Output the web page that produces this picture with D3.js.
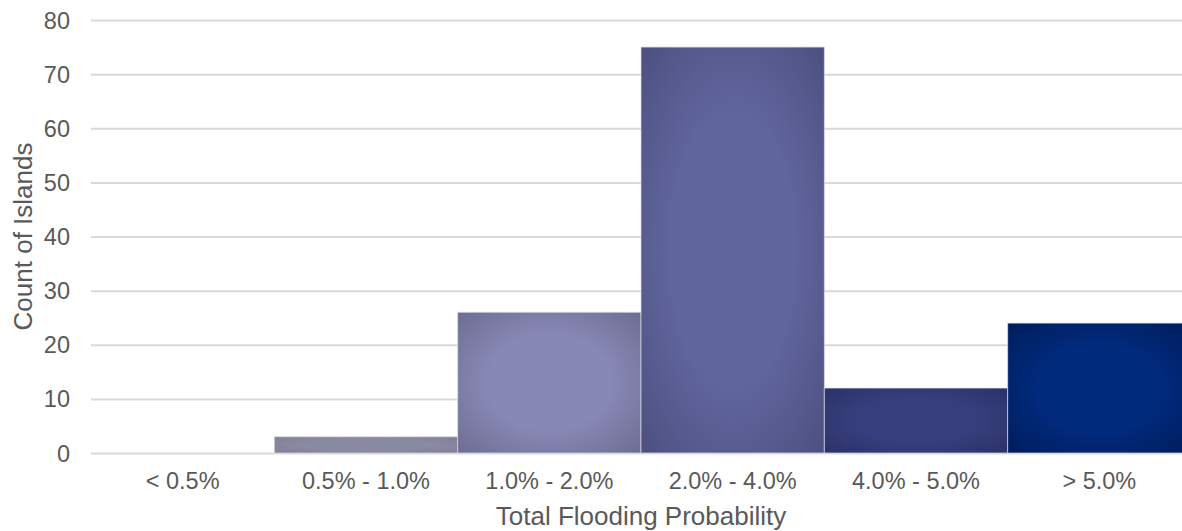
<!DOCTYPE html>
<html>
<head>
<meta charset="utf-8">
<script src="https://cdn.jsdelivr.net/npm/d3@7/dist/d3.min.js"></script>
<style>
  html, body { margin: 0; padding: 0; background: #ffffff; }
  svg { display: block; font-family: Arial, "Liberation Sans", sans-serif; }
</style>
</head>
<body>
<svg id="chart" width="1182" height="531"></svg>
<script>
// Flooding probability classes and how many islands fall in each
const categories = ["< 0.5%", "0.5% - 1.0%", "1.0% - 2.0%", "2.0% - 4.0%", "4.0% - 5.0%", "> 5.0%"];
const counts = [0, 3, 26, 75, 12, 24];
const yTicks = [0, 10, 20, 30, 40, 50, 60, 70, 80];

// Shading per category: [centre colour, edge colour]
const barShades = [
  ["#9a9aae", "#8a8a9e"],
  ["#8a8aa0", "#7e7d93"],
  ["#8888b6", "#6a698c"],
  ["#60659d", "#4a4d7c"],
  ["#363e7d", "#2b3163"],
  ["#002a7c", "#001b57"]
];

const svg = d3.select("#chart");
const plot = { left: 91, right: 1191, top: 20, bottom: 453 };

const x = d3.scaleBand().domain(categories).range([plot.left, plot.right]).padding(0);
const y = d3.scaleLinear().domain([0, 80]).range([plot.bottom, plot.top]);

// Gradients: lighter in the middle, darker toward the edges
const defs = svg.append("defs");
categories.forEach((c, i) => {
  const g = defs.append("radialGradient")
    .attr("id", "shade" + i)
    .attr("cx", "50%").attr("cy", "50%").attr("r", "75%");
  g.append("stop").attr("offset", "0%").attr("stop-color", barShades[i][0]);
  g.append("stop").attr("offset", "45%").attr("stop-color", barShades[i][0]);
  g.append("stop").attr("offset", "100%").attr("stop-color", barShades[i][1]);
});

// Horizontal gridlines
const yAxis = d3.axisLeft(y).tickValues(yTicks).tickSize(-(plot.right - plot.left)).tickPadding(21);
const gy = svg.append("g").attr("transform", `translate(${plot.left},0)`).call(yAxis);
gy.select(".domain").remove();
gy.selectAll(".tick line").attr("stroke", "#d9d9d9").attr("stroke-width", 2);
gy.selectAll(".tick text")
  .attr("fill", "#595959")
  .style("font-size", "23.5px")
  .attr("dy", "0.34em");

// Bars
svg.append("g").selectAll("rect")
  .data(categories.map((c, i) => ({ c, v: counts[i], i })))
  .join("rect")
  .attr("x", d => x(d.c))
  .attr("y", d => y(d.v))
  .attr("width", x.bandwidth())
  .attr("height", d => y(0) - y(d.v))
  .attr("fill", d => `url(#shade${d.i})`)
  .attr("stroke", d => d.v > 0 ? "rgba(220,220,236,0.7)" : "none")
  .attr("stroke-width", 1);

// Category axis labels
const xAxis = d3.axisBottom(x).tickSize(0).tickPadding(19);
const gx = svg.append("g").attr("transform", `translate(0,${plot.bottom})`).call(xAxis);
gx.select(".domain").remove();
gx.selectAll(".tick text")
  .attr("fill", "#595959")
  .style("font-size", "23.5px");

// Axis titles
svg.append("text")
  .attr("x", (plot.left + plot.right) / 2)
  .attr("y", 525)
  .attr("text-anchor", "middle")
  .attr("fill", "#595959")
  .style("font-size", "26px")
  .text("Total Flooding Probability");

svg.append("text")
  .attr("transform", `translate(32,${(plot.top + plot.bottom) / 2}) rotate(-90)`)
  .attr("text-anchor", "middle")
  .attr("fill", "#595959")
  .style("font-size", "26px")
  .text("Count of Islands");
</script>
</body>
</html>
